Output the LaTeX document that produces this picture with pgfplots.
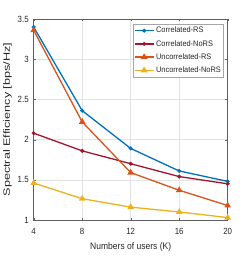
\documentclass[border=0pt]{standalone}
\usepackage{fontspec}
\setmainfont{Liberation Sans}
\newfontfamily\tickfont{Liberation Sans}[FakeStretch=0.88]
\newfontfamily\xlfont{Liberation Sans}[FakeStretch=0.9]
\newfontfamily\ylfont{Liberation Sans}[FakeStretch=1.38]
\newfontfamily\legfont{Liberation Sans}[FakeStretch=0.93]
\usepackage{pgfplots}
\pgfplotsset{compat=1.18}
\definecolor{c1}{rgb}{0,0.447,0.741}
\definecolor{c2}{rgb}{0.635,0.078,0.184}
\definecolor{c3}{rgb}{0.85,0.325,0.098}
\definecolor{c4}{rgb}{0.929,0.694,0.125}
\definecolor{txt}{rgb}{0.15,0.15,0.15}
\begin{document}
\begin{tikzpicture}
\begin{axis}[
  scale only axis,
  width=194bp, height=201bp,
  xmin=4, xmax=20, ymin=1, ymax=3.5,
  xtick={4,8,12,16,20},
  ytick={1,1.5,2,2.5,3,3.5},
  yticklabels={1,1.5,2,2.5,3,3.5},
  xticklabels={4,8,12,16,20},
  grid=major,
  major grid style={gray!22, line width=0.4pt},
  axis line style={gray!75!black, line width=0.5pt},
  tick style={gray!75!black},
  tick align=inside,
  major tick length=2.5pt,
  tick label style={font=\tickfont\fontsize{9}{10}\selectfont, text=txt},
  xticklabel style={yshift=-5pt},
  yticklabel style={xshift=-1.5pt},
  xlabel={Numbers of users (K)},
  ylabel={Spectral Efficiency [bps/Hz]},
  xlabel style={font=\xlfont\fontsize{9.5}{10}\selectfont, text=txt, yshift=-1pt},
  ylabel style={font=\ylfont\fontsize{9.2}{10}\selectfont, text=txt, yshift=-1pt},
  legend style={at={(0.98,0.975)}, anchor=north east, font=\legfont\fontsize{8}{9}\selectfont,
    draw=gray!70, inner sep=0.8pt, row sep=2pt, legend cell align=left, text=txt},
  legend image post style={xscale=1.1},
  every axis plot/.append style={line width=1.3pt},
]
\addplot[c1, mark=*, mark size=1.3pt] coordinates {(4,3.40) (8,2.36) (12,1.89) (16,1.61) (20,1.48)};
\addlegendentry{Correlated-RS}
\addplot[c2, mark=*, mark size=1.3pt] coordinates {(4,2.08) (8,1.86) (12,1.70) (16,1.54) (20,1.45)};
\addlegendentry{Correlated-NoRS}
\addplot[c3, mark=triangle*, mark size=2.6pt] coordinates {(4,3.36) (8,2.22) (12,1.59) (16,1.37) (20,1.18)};
\addlegendentry{Uncorrelated-RS}
\addplot[c4, mark=triangle*, mark size=2.6pt] coordinates {(4,1.46) (8,1.265) (12,1.16) (16,1.10) (20,1.03)};
\addlegendentry{Uncorrelated-NoRS}
\end{axis}
\useasboundingbox (current axis.south west) ++(-33bp,-36bp) rectangle ++(251bp,256bp);
\end{tikzpicture}
\end{document}
